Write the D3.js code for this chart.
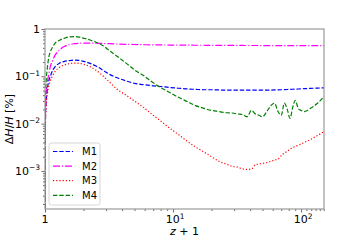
<!DOCTYPE html>
<html>
<head>
<meta charset="utf-8">
<script src="https://cdn.jsdelivr.net/npm/d3@7"></script>
<style>
  body { margin: 0; background: #fff; }
  text { font-family: "DejaVu Sans", sans-serif; }
</style>
</head>
<body>
<div id="chart"></div>
<script>
// z + 1 grid shared by all series
const zPlusOne = [1.00003, 1.001, 1.005, 1.01, 1.02, 1.04, 1.07, 1.1, 1.15, 1.2, 1.3, 1.4, 1.55, 1.7, 1.85,
  2.0, 2.25, 2.5, 2.8, 3.2, 3.7, 4.3, 5, 6, 7, 8, 9.5, 11, 13, 15, 17.5, 20, 23, 26, 29, 32, 35, 38, 41,
  44, 47, 50, 54, 58, 62, 66, 70, 74, 78, 82, 86, 90, 95, 100, 106, 112, 118, 125, 132, 140, 151];

// Delta H / H in percent
const m1 = [0.00005, 0.0015, 0.0075, 0.015, 0.028, 0.05, 0.08, 0.1, 0.135, 0.16, 0.19, 0.205, 0.215, 0.22, 0.217,
  0.207, 0.188, 0.165, 0.138, 0.11, 0.092, 0.08, 0.071, 0.066, 0.063, 0.061, 0.058, 0.056, 0.054, 0.053, 0.052, 0.052, 0.0515, 0.051, 0.051, 0.051, 0.051, 0.051, 0.051,
  0.051, 0.051, 0.051, 0.051, 0.0512, 0.0515, 0.0518, 0.052, 0.0523, 0.0526, 0.053, 0.0533, 0.0536, 0.054, 0.0543, 0.0548, 0.0552, 0.0556, 0.056, 0.0563, 0.0567, 0.0572];
const m2 = [0.00007, 0.0022, 0.011, 0.022, 0.04, 0.07, 0.11, 0.16, 0.22, 0.28, 0.36, 0.42, 0.47, 0.49, 0.5,
  0.505, 0.505, 0.5, 0.495, 0.49, 0.48, 0.475, 0.47, 0.465, 0.462, 0.46, 0.458, 0.456, 0.455, 0.454, 0.453, 0.452, 0.451, 0.45, 0.45, 0.449, 0.449, 0.448, 0.448,
  0.448, 0.447, 0.447, 0.447, 0.447, 0.446, 0.446, 0.446, 0.446, 0.446, 0.445, 0.445, 0.445, 0.445, 0.445, 0.445, 0.445, 0.445, 0.445, 0.445, 0.445, 0.445];
const m3 = [0.00004, 0.0012, 0.006, 0.012, 0.022, 0.04, 0.062, 0.08, 0.105, 0.127, 0.155, 0.172, 0.185, 0.19, 0.188,
  0.18, 0.16, 0.135, 0.105, 0.075, 0.052, 0.04, 0.03, 0.021, 0.015, 0.0114, 0.0079, 0.0059, 0.0042, 0.0032, 0.0025, 0.002, 0.00158, 0.0014, 0.00125, 0.0012, 0.0011, 0.00108, 0.0011,
  0.00135, 0.0014, 0.00145, 0.0015, 0.0016, 0.0017, 0.00178, 0.0021, 0.0024, 0.0026, 0.0029, 0.0031, 0.0033, 0.0035, 0.0037, 0.004, 0.0043, 0.0046, 0.005, 0.0055, 0.006, 0.0068];
const m4 = [0.00012, 0.004, 0.02, 0.04, 0.075, 0.14, 0.25, 0.33, 0.42, 0.5, 0.58, 0.63, 0.68, 0.69, 0.675,
  0.64, 0.585, 0.525, 0.455, 0.345, 0.26, 0.19, 0.137, 0.1, 0.073, 0.058, 0.045, 0.036, 0.029, 0.024, 0.021, 0.019, 0.018, 0.017, 0.0168, 0.016, 0.0155, 0.014, 0.019,
  0.016, 0.015, 0.014, 0.018, 0.024, 0.027, 0.018, 0.015, 0.027, 0.02, 0.013, 0.022, 0.031, 0.021, 0.019, 0.018, 0.019, 0.021, 0.023, 0.026, 0.03, 0.038];

const seriesNames = ["M1", "M2", "M3", "M4"];
const seriesValues = [m1, m2, m3, m4];

// Tick labels
const xTickValues = [1, 10, 100];
const xTickLabels = [["1", ""], ["10", "1"], ["10", "2"]];
const yTickValues = [1, 0.1, 0.01, 0.001];
const yTickLabels = [["1", ""], ["10", "\u22121"], ["10", "\u22122"], ["10", "\u22123"]];

const width = 360, height = 240;
const margin = { top: 29, right: 36, bottom: 31, left: 45 };

const styles = {
  M1: { color: "#0000ff", dash: "4.4,1.9" },
  M2: { color: "#ff00ff", dash: "7,1.9,1.2,1.9" },
  M3: { color: "#ff0000", dash: "1.2,2" },
  M4: { color: "#008000", dash: "4.4,1.9" }
};

const svg = d3.select("#chart")
  .append("svg")
  .attr("width", width)
  .attr("height", height);

const x = d3.scaleLog().domain([1, 151]).range([margin.left, width - margin.right]);
const y = d3.scaleLog().domain([1.57e-4, 1]).range([height - margin.bottom, margin.top]);

svg.append("clipPath").attr("id", "clip")
  .append("rect")
  .attr("x", margin.left).attr("y", margin.top)
  .attr("width", width - margin.left - margin.right)
  .attr("height", height - margin.top - margin.bottom);

// Curves
const line = d3.line()
  .curve(d3.curveMonotoneX)
  .x(d => x(d[0]))
  .y(d => y(d[1]));

const plot = svg.append("g").attr("clip-path", "url(#clip)");
seriesNames.forEach((name, i) => {
  const pts = zPlusOne.map((z, j) => [z, seriesValues[i][j]]);
  plot.append("path")
    .datum(pts)
    .attr("fill", "none")
    .attr("stroke", styles[name].color)
    .attr("stroke-width", 1.2)
    .attr("stroke-dasharray", styles[name].dash)
    .attr("d", line);
});

// Minor ticks
const xMinor = [];
for (let k = 2; k < 10; k++) xMinor.push(k, k * 10);
for (let k = 110; k <= 150; k += 10) xMinor.push(k);
const yMinor = [];
[1e-4, 1e-3, 1e-2, 1e-1].forEach(b => { for (let k = 2; k < 10; k++) if (b * k >= 1.57e-4) yMinor.push(b * k); });

const xAxis = d3.axisBottom(x).tickValues(xTickValues).tickSize(3.5).tickFormat("");
const xAxisMinor = d3.axisBottom(x).tickValues(xMinor).tickSize(2).tickFormat("");
const yAxis = d3.axisLeft(y).tickValues(yTickValues).tickSize(3.5).tickFormat("");
const yAxisMinor = d3.axisLeft(y).tickValues(yMinor).tickSize(2).tickFormat("");

const bottom = height - margin.bottom;
[xAxis, xAxisMinor].forEach(a => {
  svg.append("g").attr("transform", `translate(0,${bottom})`).call(a)
    .call(g => g.select(".domain").remove())
    .selectAll("line").attr("stroke", "#444").attr("stroke-width", 0.8);
});
[yAxis, yAxisMinor].forEach(a => {
  svg.append("g").attr("transform", `translate(${margin.left},0)`).call(a)
    .call(g => g.select(".domain").remove())
    .selectAll("line").attr("stroke", "#444").attr("stroke-width", 0.8);
});

// Frame
svg.append("rect")
  .attr("x", margin.left).attr("y", margin.top)
  .attr("width", width - margin.left - margin.right)
  .attr("height", height - margin.top - margin.bottom)
  .attr("fill", "none")
  .attr("stroke", "#999")
  .attr("stroke-width", 1.2);

// Tick labels with superscripts
function powerLabel(sel, parts) {
  sel.append("tspan").text(parts[0]);
  if (parts[1]) sel.append("tspan").attr("font-size", 7.5).attr("dy", -4.5).text(parts[1]);
}

xTickValues.forEach((v, i) => {
  const t = svg.append("text")
    .attr("x", x(v) + (xTickLabels[i][1] ? 2 : 0))
    .attr("y", bottom + 14)
    .attr("text-anchor", "middle")
    .attr("font-size", 11)
    .attr("fill", "#000");
  powerLabel(t, xTickLabels[i]);
});

yTickValues.forEach((v, i) => {
  const t = svg.append("text")
    .attr("x", margin.left - 5)
    .attr("y", y(v) + 4)
    .attr("text-anchor", "end")
    .attr("font-size", 11)
    .attr("fill", "#000");
  powerLabel(t, yTickLabels[i]);
});

// Axis titles
const xTitle = svg.append("text")
  .attr("x", (margin.left + width - margin.right) / 2)
  .attr("y", 235)
  .attr("text-anchor", "middle")
  .attr("font-size", 11);
xTitle.append("tspan").attr("font-style", "italic").text("z");
xTitle.append("tspan").text(" + 1");

const yTitle = svg.append("text")
  .attr("transform", `translate(13,${(margin.top + bottom) / 2}) rotate(-90)`)
  .attr("text-anchor", "middle")
  .attr("font-size", 11);
yTitle.append("tspan").text("\u0394");
yTitle.append("tspan").attr("font-style", "italic").text("H");
yTitle.append("tspan").text("/");
yTitle.append("tspan").attr("font-style", "italic").text("H");
yTitle.append("tspan").text(" [%]");

// Legend
const legend = svg.append("g");
legend.append("rect")
  .attr("x", 49).attr("y", 143)
  .attr("width", 51).attr("height", 62)
  .attr("rx", 2.5)
  .attr("fill", "#fff").attr("fill-opacity", 0.8)
  .attr("stroke", "#ccc").attr("stroke-width", 0.8);

seriesNames.forEach((name, i) => {
  const ly = 151.5 + i * 14.6;
  legend.append("line")
    .attr("x1", 53).attr("x2", 73)
    .attr("y1", ly).attr("y2", ly)
    .attr("stroke", styles[name].color)
    .attr("stroke-width", 1.2)
    .attr("stroke-dasharray", styles[name].dash);
  legend.append("text")
    .attr("x", 82).attr("y", ly + 3.5)
    .attr("font-size", 10)
    .text(name);
});
</script>
</body>
</html>
